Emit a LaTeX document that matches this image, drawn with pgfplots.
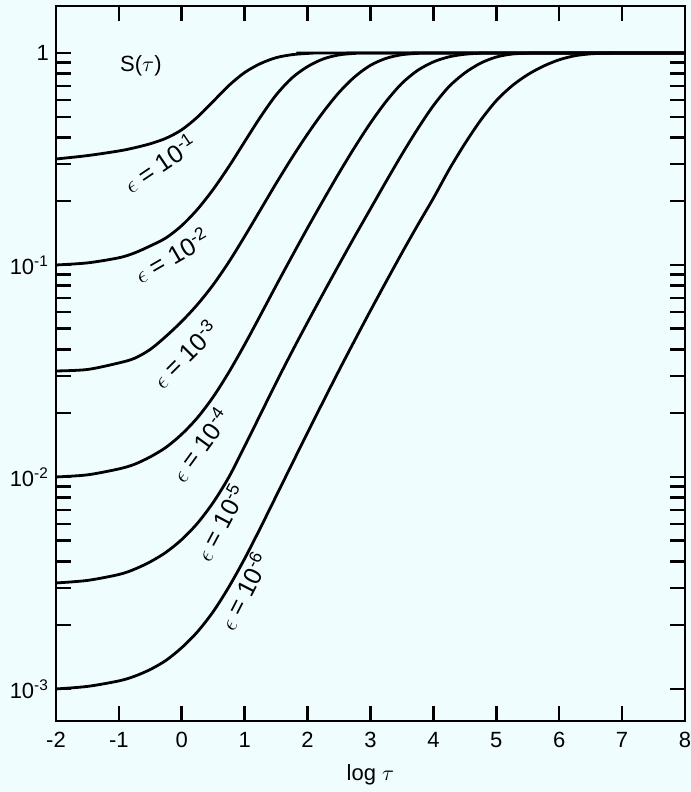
\documentclass[border=0pt]{standalone}
\usepackage{pgfplots}
\pgfplotsset{compat=1.18}
\usepackage{fontspec}
\setmainfont{Liberation Sans}
\usetikzlibrary{calc,backgrounds}
\definecolor{paper}{RGB}{240,253,255}

% S(tau), one curve per epsilon
\pgfplotstableread{
x     S
-2    0.3162
-1.5  0.3281
-1.0  0.3451
-0.75 0.3573
-0.5  0.3733
-0.25 0.3963
0.0   0.4345
0.25  0.4989
0.5   0.5916
0.75  0.7031
1.0   0.8091
1.25  0.8913
1.5   0.9506
1.75  0.9817
2.0   0.9954
2.25  1
8     1
}\epsA
\pgfplotstableread{
x     S
-2    0.1
-1.5  0.1023
-1.0  0.10814
-0.75 0.11402
-0.5  0.12303
-0.25 0.13428
0.0   0.15346
0.25  0.18323
0.5   0.22751
0.75  0.29174
1.0   0.38194
1.25  0.4989
1.5   0.63387
1.75  0.76208
2.0   0.86298
2.25  0.93756
2.5   0.97949
2.75  0.9954
3.0   1
8     1
}\epsB
\pgfplotstableread{
x     S
-2    0.031623
-1.5  0.032137
-1.0  0.034514
-0.75 0.036308
-0.5  0.039994
-0.25 0.046132
0.0   0.054200
0.25  0.065163
0.5   0.080724
0.75  0.10351
1.0   0.13646
1.25  0.18197
1.5   0.24266
1.75  0.31989
2.0   0.41495
2.25  0.52723
2.5   0.65163
2.75  0.77268
3.0   0.87498
3.25  0.94406
3.5   0.98175
3.75  0.9954
4.0   1
8     1
}\epsC
\pgfplotstableread{
x     S
-2    0.01
-1.5  0.010233
-1.0  0.010914
-0.75 0.011482
-0.5  0.012445
-0.25 0.013804
0.0   0.015922
0.25  0.019055
0.5   0.023878
0.75  0.031261
1.0   0.042170
1.25  0.057943
1.5   0.079983
1.75  0.10965
2.0   0.14962
2.25  0.20230
2.5   0.27164
2.75  0.35975
3.0   0.46774
3.25  0.59156
3.5   0.71945
3.75  0.82794
4.0   0.90782
4.25  0.95940
4.5   0.98628
4.75  0.9977
5.0   1
8     1
}\epsD
\pgfplotstableread{
x     S
-2    0.0031623
-1.5  0.0032509
-1.0  0.0034674
-0.75 0.0036728
-0.5  0.0039811
-0.25 0.0044157
0.0   0.0050699
0.25  0.0060534
0.5   0.0075858
0.75  0.01
1.0   0.013964
1.25  0.019724
1.5   0.027861
1.75  0.038905
2.0   0.053703
2.25  0.073621
2.5   0.10046
2.75  0.13646
3.0   0.18408
3.25  0.24831
3.5   0.33266
3.75  0.43853
4.0   0.56494
4.25  0.69502
4.5   0.80538
4.75  0.89536
5.0   0.95720
5.25  0.98855
5.5   0.9977
5.75  1
8     1
}\epsE
\pgfplotstableread{
x     S
-2    0.001
-1.5  0.0010280
-1.0  0.0010914
-0.75 0.0011482
-0.5  0.0012359
-0.25 0.0013646
0.0   0.0015668
0.25  0.0018621
0.5   0.0023174
0.75  0.0030339
1.0   0.0041210
1.25  0.0057544
1.5   0.0081283
1.75  0.011482
2.0   0.016218
2.25  0.022751
2.5   0.031842
2.75  0.044157
3.0   0.060954
3.25  0.083560
3.5   0.11402
3.75  0.15417
4.0   0.20654
4.25  0.28184
4.5   0.37325
4.75  0.48084
5.0   0.59566
5.25  0.69984
5.5   0.79068
5.75  0.86696
6.0   0.92897
6.25  0.97050
6.5   0.99083
6.75  0.9977
7.0   1
8     1
}\epsF

\begin{document}
\begin{tikzpicture}
\begin{axis}[
  name=ax,
  scale only axis, width=314.5pt, height=357.5pt,
  xmin=-2, xmax=8, ymode=log, ymin=7.06e-4, ymax=1.666,
  axis line style={line width=1pt},
  tick style={line width=1.3pt, black},
  major tick length=7.5pt, minor tick length=7.5pt,
  xtick={-2,-1,0,1,2,3,4,5,6,7,8},
  xticklabels={-2,-1,0,1,2,3,4,5,6,7,8},
  ytick={0.001,0.01,0.1,1},
  yticklabels={10\textsuperscript{-3},10\textsuperscript{-2},10\textsuperscript{-1},1},
  minor ytick={0.002,0.003,0.004,0.005,0.006,0.007,0.008,0.009,
               0.02,0.03,0.04,0.05,0.06,0.07,0.08,0.09,
               0.2,0.3,0.4,0.5,0.6,0.7,0.8,0.9},
  tick label style={font=\fontsize{11}{13}\selectfont},
  xticklabel style={yshift=-2pt},
  xlabel={log $\tau$},
  xlabel style={font=\fontsize{11}{13}\selectfont, at={(axis description cs:0.5,0)}, anchor=north, yshift=-18pt},
]
\addplot[black, line width=1.4pt, smooth] table[x=x,y=S] {\epsA};
\addplot[black, line width=1.4pt, smooth] table[x=x,y=S] {\epsB};
\addplot[black, line width=1.4pt, smooth] table[x=x,y=S] {\epsC};
\addplot[black, line width=1.4pt, smooth] table[x=x,y=S] {\epsD};
\addplot[black, line width=1.4pt, smooth] table[x=x,y=S] {\epsE};
\addplot[black, line width=1.4pt, smooth] table[x=x,y=S] {\epsF};

\node[font=\fontsize{11}{13}\selectfont, inner sep=0pt] at (axis cs:-0.65,0.868) {S($\tau$)};
\begin{scope}[every node/.style={font=\fontsize{12.5}{14}\selectfont, inner sep=0pt}]
\node[rotate=34] at (axis cs:-0.35,0.303) {$\epsilon$ = 10\textsuperscript{-1}};
\node[rotate=30] at (axis cs:-0.16,0.111) {$\epsilon$ = 10\textsuperscript{-2}};
\node[rotate=45] at (axis cs:0.05,0.0380) {$\epsilon$ = 10\textsuperscript{-3}};
\node[rotate=54] at (axis cs:0.29,0.0142) {$\epsilon$ = 10\textsuperscript{-4}};
\node[rotate=62] at (axis cs:0.61,0.0061) {$\epsilon$ = 10\textsuperscript{-5}};
\node[rotate=63] at (axis cs:0.98,0.0029) {$\epsilon$ = 10\textsuperscript{-6}};
\end{scope}
\end{axis}
\begin{scope}[on background layer]
\fill[paper] ($(ax.south west)+(-28pt,-35.5pt)$) rectangle ($(ax.north east)+(3pt,3pt)$);
\end{scope}
\pgfresetboundingbox
\path ($(ax.south west)+(-28pt,-35.5pt)$) rectangle ($(ax.north east)+(3pt,3pt)$);
\end{tikzpicture}
\end{document}
